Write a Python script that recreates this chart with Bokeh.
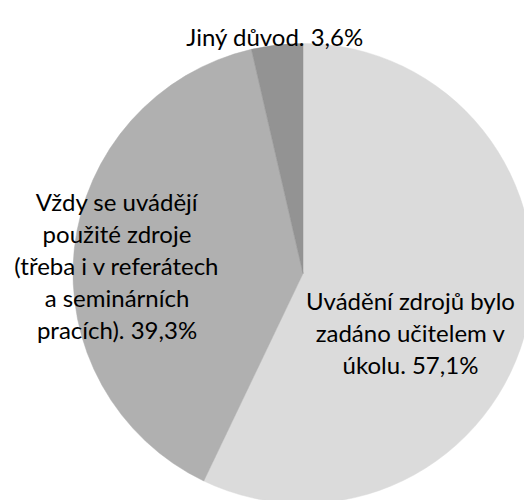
import math
from bokeh.plotting import figure
from bokeh.models import ColumnDataSource, Range1d
from bokeh.core.properties import value
from bokeh.embed import file_html
from bokeh.resources import INLINE

# ---- data ----
categories = [
    "Uvádění zdrojů bylo zadáno učitelem v úkolu",
    "Vždy se uvádějí použité zdroje (třeba i v referátech a seminárních pracích)",
    "Jiný důvod",
]
percent = [57.1, 39.3, 3.6]
colors = ["#DBDBDB", "#B0B0B0", "#939393"]
label_lines = [
    ["Uvádění zdrojů bylo", "zadáno učitelem v", "úkolu. 57,1%"],
    ["Vždy se uvádějí", "použité zdroje", "(třeba i v referátech", "a seminárních", "pracích). 39,3%"],
    ["Jiný důvod. 3,6%"],
]

# ---- layout (pixel-like data units) ----
W, H = 524, 500
cx, cy, r = 302.5, 227.0, 230.0
label_anchor = [(410.0, 200.0), (116.5, 299.0), (274.5, 464.0)]  # first baseline
line_step = 32.0

total = sum(percent)
starts, ends = [], []
cum = 0.0
for v in percent:
    starts.append(math.pi / 2 - 2 * math.pi * cum / total)
    cum += v
    ends.append(math.pi / 2 - 2 * math.pi * cum / total)

wedges = ColumnDataSource(dict(x=[cx] * 3, y=[cy] * 3, start=starts, end=ends, color=colors, cat=categories))

tx, ty, tt = [], [], []
for (ax, ay), lines in zip(label_anchor, label_lines):
    for i, ln in enumerate(lines):
        tx.append(ax)
        ty.append(ay - i * line_step)
        tt.append(ln)
texts = ColumnDataSource(dict(x=tx, y=ty, text=tt))

p = figure(width=W, height=H, output_backend="svg", toolbar_location=None,
           x_range=Range1d(0, W), y_range=Range1d(0, H), min_border=0)
p.axis.visible = False
p.grid.visible = False
p.outline_line_color = None
p.background_fill_color = "white"
p.border_fill_color = "white"

p.wedge(x="x", y="y", radius=r, start_angle="start", end_angle="end", direction="clock",
        fill_color="color", line_color="color", line_width=0.5, source=wedges)

p.text(x="x", y="y", text="text", source=texts, text_align="center", text_baseline="alphabetic",
       text_font=value("Lato"), text_font_size="24px", text_color="#000000")

open("out.html", "w").write(file_html(p, INLINE))
